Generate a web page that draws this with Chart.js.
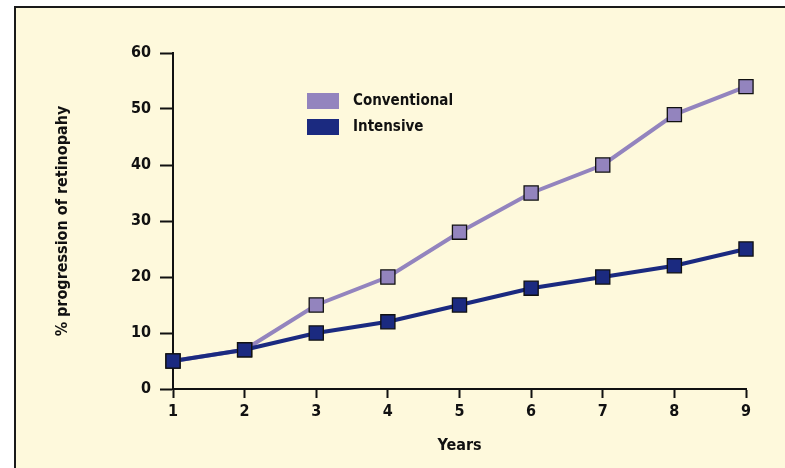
<!DOCTYPE html>
<html>
<head>
<meta charset="utf-8">
<script src="https://cdn.jsdelivr.net/npm/chart.js@4/dist/chart.umd.min.js"></script>
<style>
html,body{margin:0;padding:0;background:#ffffff;}
#wrap{width:785px;height:468px;position:relative;}
</style>
</head>
<body>
<div id="wrap"><canvas id="c" width="785" height="468"></canvas></div>
<script>
const years = [1, 2, 3, 4, 5, 6, 7, 8, 9];
const conventional = [5, 7, 15, 20, 28, 35, 40, 49, 54];
const intensive = [5, 7, 10, 12, 15, 18, 20, 22, 25];
const seriesNames = ['Conventional', 'Intensive'];
const yTitle = '% progression of retinopahy';
const xTitle = 'Years';

const FONT = '"DejaVu Sans Condensed", "Liberation Sans Narrow", sans-serif';
const convColor = '#9384BE';
const intColor = '#1B2A80';

const framePlugin = {
  id: 'frame',
  beforeDraw(chart) {
    const ctx = chart.ctx;
    ctx.save();
    ctx.fillStyle = '#ffffff';
    ctx.fillRect(0, 0, 785, 468);
    ctx.fillStyle = '#FEF9DC';
    ctx.fillRect(15, 7, 770, 461);
    ctx.strokeStyle = '#1a1a1a';
    ctx.lineWidth = 2;
    ctx.beginPath();
    ctx.moveTo(15, 468);
    ctx.lineTo(15, 7);
    ctx.lineTo(785, 7);
    ctx.stroke();
    ctx.restore();
  }
};

const legendPlugin = {
  id: 'customLegend',
  afterDraw(chart) {
    const ctx = chart.ctx;
    ctx.save();
    const items = [
      {name: seriesNames[0], color: convColor, y: 93},
      {name: seriesNames[1], color: intColor, y: 119}
    ];
    items.forEach(it => {
      ctx.fillStyle = it.color;
      ctx.fillRect(307, it.y, 32, 16);
      ctx.fillStyle = '#111111';
      ctx.font = 'bold 15px ' + FONT;
      ctx.textBaseline = 'middle';
      ctx.textAlign = 'left';
      ctx.fillText(it.name, 353, it.y + 8);
    });
    ctx.restore();
  }
};

const toPts = arr => arr.map((v, i) => ({x: years[i], y: v}));

const ds = (name, data, color, order) => ({
  label: name,
  data: toPts(data),
  order: order,
  clip: false,
  borderColor: color,
  backgroundColor: color,
  borderWidth: 4,
  pointStyle: 'rect',
  pointRadius: 10,
  pointBorderColor: '#111111',
  pointBorderWidth: 1.3,
  pointBackgroundColor: color,
  tension: 0
});

new Chart(document.getElementById('c'), {
  type: 'line',
  data: {
    datasets: [
      ds(seriesNames[0], conventional, convColor, 2),
      ds(seriesNames[1], intensive, intColor, 1)
    ]
  },
  options: {
    responsive: false,
    animation: false,
    layout: {padding: {left: 0, right: 39, top: 53, bottom: 0}},
    plugins: {legend: {display: false}, tooltip: {enabled: false}},
    scales: {
      x: {
        type: 'linear',
        min: 1,
        max: 9,
        afterFit(s) { s.height = 79; },
        ticks: {
          stepSize: 1,
          color: '#111111',
          padding: 4,
          font: {family: FONT, size: 16, weight: 'bold'}
        },
        grid: {
          drawOnChartArea: false,
          drawTicks: true,
          tickLength: 9,
          tickWidth: 2,
          color: '#111111'
        },
        border: {display: true, color: '#111111', width: 2},
        title: {
          display: true,
          text: xTitle,
          color: '#111111',
          font: {family: FONT, size: 16, weight: 'bold'},
          padding: {top: 0, bottom: 13}
        }
      },
      y: {
        min: 0,
        max: 60,
        afterFit(s) { s.width = 173; },
        ticks: {
          stepSize: 10,
          color: '#111111',
          padding: 9,
          font: {family: FONT, size: 16, weight: 'bold'}
        },
        grid: {
          drawOnChartArea: false,
          drawTicks: true,
          tickLength: 13,
          tickWidth: 2,
          color: '#111111'
        },
        border: {display: true, color: '#111111', width: 2},
        title: {
          display: true,
          text: yTitle,
          color: '#111111',
          font: {family: FONT, size: 16, weight: 'bold'},
          padding: {top: 53, bottom: 0}
        }
      }
    }
  },
  plugins: [framePlugin, legendPlugin]
});
</script>
</body>
</html>
